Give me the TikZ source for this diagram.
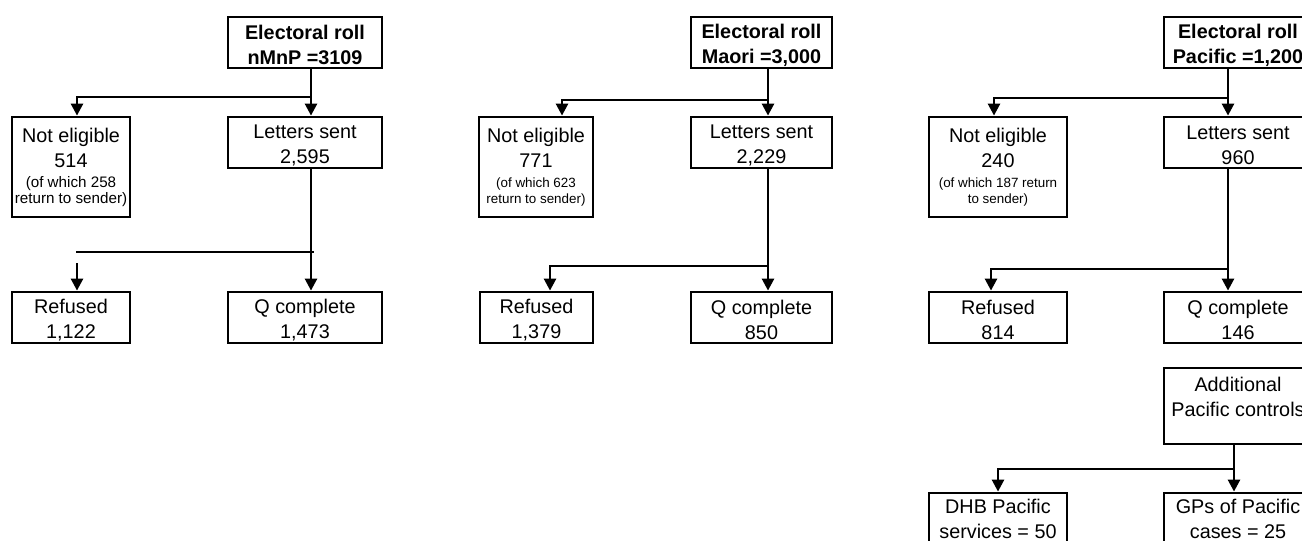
\documentclass[tikz,border=0pt]{standalone}
\usepackage{fontspec}
\setmainfont{Liberation Sans}
\usetikzlibrary{arrows.meta}

\newcommand{\notetext}[2]{{\fontsize{#1}{8}\selectfont #2}}
\newcommand{\hstrut}{\rule{0pt}{10pt}}

\begin{document}
\begin{tikzpicture}[x=0.5pt,y=-0.5pt,
        box/.style={draw, line width=1.4pt, align=center, inner sep=0pt,
          minimum height=25.5pt, font=\fontsize{9.9}{12.5}\selectfont},
        title/.style={box, font=\fontsize{9.9}{12.5}\selectfont\bfseries},
        link/.style={line width=1.3pt},
        arr/.style={link, -{Triangle[length=6pt,width=6pt]}}]
        \useasboundingbox (0,0) rectangle (1302,541);

        % nMnP
        \node[title, minimum width=77pt] (roll1) at (305,42.5) {\hstrut Electoral roll\\nMnP =3109};
        \node[box, minimum width=59pt, minimum height=50pt] (inel1) at (71,167)
          {Not eligible\\514\\[-2.5pt]\notetext{7.6}{(of which 258}\\[-4.5pt]\notetext{7.6}{return to sender)}};
        \node[box, minimum width=77pt] (sent1) at (305,142.5) {\hstrut Letters sent\\2,595};
        \node[box, minimum width=59pt] (ref1) at (71,317.5) {\hstrut Refused\\1,122};
        \node[box, minimum width=77pt] (done1) at (305,317.5) {\hstrut Q complete\\1,473};

        \coordinate (j1) at (311,97);
        \coordinate (k1) at (77,97);
        \coordinate (m1) at (76,252);
        \coordinate (n1) at (314,252);
        \coordinate (p1) at (77,263);
        \draw[arr] (roll1.south -| j1) -- (sent1.north -| j1);
        \draw[arr] (j1) -- (k1) -- (inel1.north -| k1);
        \draw[arr] (sent1.south -| j1) -- (done1.north -| j1);
        \draw[link] (m1) -- (n1);
        \draw[arr] (p1) -- (ref1.north -| p1);

        % Maori
        \node[title, minimum width=70.5pt] (roll2) at (761.5,42.5) {\hstrut Electoral roll\\Maori =3,000};
        \node[box, minimum width=57pt, minimum height=50pt] (inel2) at (536,167)
          {Not eligible\\771\\[-2.5pt]\notetext{6.7}{(of which 623}\\[-4.5pt]\notetext{6.7}{return to sender)}};
        \node[box, minimum width=70.5pt] (sent2) at (761.5,142.5) {\hstrut Letters sent\\2,229};
        \node[box, minimum width=56.5pt] (ref2) at (536.5,317.5) {\hstrut Refused\\1,379};
        \node[box, minimum width=70.5pt] (done2) at (761.5,317.5) {\hstrut Q complete\\850};

        \coordinate (j2) at (768,100);
        \coordinate (k2) at (562,100);
        \coordinate (m2) at (768,266);
        \coordinate (n2) at (550,266);
        \draw[arr] (roll2.south -| j2) -- (sent2.north -| j2);
        \draw[arr] (j2) -- (k2) -- (inel2.north -| k2);
        \draw[arr] (sent2.south -| m2) -- (done2.north -| m2);
        \draw[arr] (m2) -- (n2) -- (ref2.north -| n2);

        % Pacific
        \node[title, minimum width=74pt] (roll3) at (1238,42.5) {\hstrut Electoral roll\\Pacific =1,200};
        \node[box, minimum width=69pt, minimum height=50pt] (inel3) at (998,167)
          {Not eligible\\240\\[-2.5pt]\notetext{6.7}{(of which 187 return}\\[-4.5pt]\notetext{6.7}{to sender)}};
        \node[box, minimum width=74pt] (sent3) at (1238,142.5) {\hstrut Letters sent\\960};
        \node[box, minimum width=69pt] (ref3) at (998,317.5) {\hstrut Refused\\814};
        \node[box, minimum width=74pt] (done3) at (1238,317.5) {\hstrut Q complete\\146};
        \node[box, minimum width=74pt, minimum height=38pt] (add3) at (1238,406)
          {\hstrut Additional\\Pacific controls\\\mbox{}};
        \node[box, minimum width=69pt] (dhb3) at (998,518.5) {DHB Pacific\\services = 50};
        \node[box, minimum width=74pt] (gp3) at (1238,518.5) {GPs of Pacific\\cases = 25};

        \coordinate (j3) at (1228,98);
        \coordinate (k3) at (994,98);
        \coordinate (m3) at (1228,269);
        \coordinate (n3) at (991,269);
        \coordinate (q3) at (1234,469);
        \coordinate (r3) at (998,469);
        \draw[arr] (roll3.south -| j3) -- (sent3.north -| j3);
        \draw[arr] (j3) -- (k3) -- (inel3.north -| k3);
        \draw[arr] (sent3.south -| m3) -- (done3.north -| m3);
        \draw[arr] (m3) -- (n3) -- (ref3.north -| n3);
        \draw[arr] (add3.south -| q3) -- (gp3.north -| q3);
        \draw[arr] (q3) -- (r3) -- (dhb3.north -| r3);
\end{tikzpicture}
\end{document}
